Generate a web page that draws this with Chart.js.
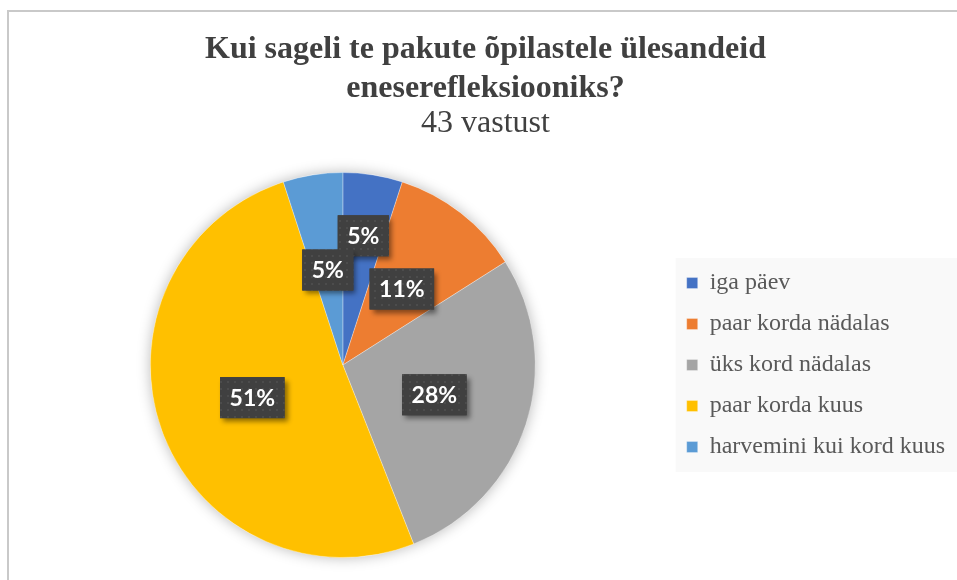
<!DOCTYPE html>
<html>
<head>
    <meta charset="utf-8">
    <title>Kui sageli te pakute õpilastele ülesandeid eneserefleksiooniks?</title>
    <script src="https://cdn.jsdelivr.net/npm/chart.js@4.4.0/dist/chart.umd.min.js"></script>
    <style>
        html, body { margin: 0; padding: 0; background: #fff; }
        #wrap { position: relative; width: 957px; height: 580px; overflow: hidden; }
        #frame { position: absolute; left: 7px; top: 10px; right: -10px; bottom: -10px;
                 border-top: 2px solid #c9c9c9; border-left: 2px solid #c9c9c9; }
        #myChart { position: absolute; left: 0; top: 0; }
    </style>
</head>
<body>
<div id="wrap">
    <div id="frame"></div>
    <canvas id="myChart" width="957" height="580"></canvas>
</div>
<script>
    // survey answers, in percent of 43 replies
    var labels = ["iga päev", "paar korda nädalas", "üks kord nädalas", "paar korda kuus", "harvemini kui kord kuus"];
    var percents = [5, 11, 28, 51, 5];
    var colors = ["#4472C4", "#ED7D31", "#A5A5A5", "#FFC000", "#5B9BD5"];

    // how far out (share of radius) each value label sits
    var labelRadius = [0.68, 0.5, 0.5, 0.5, 0.5];

    function makeDots() {
        var c = document.createElement("canvas");
        c.width = 7; c.height = 7;
        var g = c.getContext("2d");
        g.fillStyle = "#404040";
        g.fillRect(0, 0, 7, 7);
        g.fillStyle = "#4c4c4c";
        g.fillRect(3, 3, 2, 2);
        return c;
    }

    var pieShadow = {
        id: "pieShadow",
        beforeDatasetsDraw: function(chart) {
            var arc = chart.getDatasetMeta(0).data[0];
            if (!arc) return;
            var ctx = chart.ctx;
            ctx.save();
            ctx.shadowColor = "rgba(0,0,0,0.28)";
            ctx.shadowBlur = 14;
            ctx.beginPath();
            ctx.arc(arc.x, arc.y, arc.outerRadius, 0, Math.PI * 2);
            ctx.fillStyle = "#fff";
            ctx.fill();
            ctx.restore();
        }
    };

    var legendBg = {
        id: "legendBg",
        beforeDraw: function(chart) {
            var boxes = chart.legend.legendHitBoxes;
            if (!boxes || !boxes.length) return;
            var first = boxes[0], last = boxes[boxes.length - 1];
            var ctx = chart.ctx;
            ctx.save();
            ctx.fillStyle = "#f9f9f9";
            var top = first.top - 13;
            ctx.fillRect(first.left - 11, top, chart.width - first.left + 11, last.top + last.height + 13 - top);
            ctx.restore();
        }
    };

    var valueLabels = {
        id: "valueLabels",
        afterDatasetsDraw: function(chart) {
            var ctx = chart.ctx;
            var pattern = ctx.createPattern(makeDots(), "repeat");
            var meta = chart.getDatasetMeta(0);
            meta.data.forEach(function(arc, i) {
                var p = arc.getProps(["x", "y", "startAngle", "endAngle", "outerRadius"], true);
                var mid = (p.startAngle + p.endAngle) / 2;
                var r = p.outerRadius * labelRadius[i];
                var cx = p.x + Math.cos(mid) * r;
                var cy = p.y + Math.sin(mid) * r;
                var text = percents[i] + "%";
                ctx.save();
                ctx.font = "bold 23px Lato";
                var w = ctx.measureText(text).width + 19;
                var h = 41;
                ctx.shadowColor = "rgba(0,0,0,0.45)";
                ctx.shadowBlur = 5;
                ctx.shadowOffsetX = 3;
                ctx.shadowOffsetY = 4;
                ctx.fillStyle = "#404040";
                ctx.fillRect(cx - w / 2, cy - h / 2, w, h);
                ctx.shadowColor = "transparent";
                ctx.fillStyle = pattern;
                ctx.fillRect(cx - w / 2, cy - h / 2, w, h);
                ctx.fillStyle = "#ffffff";
                ctx.textAlign = "center";
                ctx.textBaseline = "middle";
                ctx.fillText(text, cx, cy + 1);
                ctx.restore();
            });
        }
    };

    var chart = new Chart(document.getElementById("myChart"), {
        type: "pie",
        data: {
            labels: labels,
            datasets: [{
                data: percents,
                backgroundColor: colors,
                borderColor: "rgba(255,255,255,0.3)",
                borderWidth: 1
            }]
        },
        options: {
            responsive: false,
            animation: false,
            devicePixelRatio: 1,
            layout: { padding: { left: 16, right: 2, top: 10, bottom: 22 } },
            plugins: {
                title: {
                    display: true,
                    text: ["Kui sageli te pakute õpilastele ülesandeid", "eneserefleksiooniks?"],
                    color: "#404040",
                    font: { family: "Liberation Serif", size: 32, weight: "bold", lineHeight: 1.22 },
                    padding: { top: 20, bottom: 0 }
                },
                subtitle: {
                    display: true,
                    text: "43 vastust",
                    color: "#404040",
                    font: { family: "Liberation Serif", size: 32, lineHeight: 1.0 },
                    padding: { top: 0, bottom: 32 }
                },
                legend: {
                    position: "right",
                    fullSize: false,
                    labels: {
                        font: { family: "Liberation Serif", size: 24 },
                        color: "#595959",
                        boxWidth: 11,
                        boxHeight: 11,
                        padding: 17
                    }
                },
                tooltip: { enabled: false }
            }
        },
        plugins: [pieShadow, legendBg, valueLabels]
    });
</script>
</body>
</html>
